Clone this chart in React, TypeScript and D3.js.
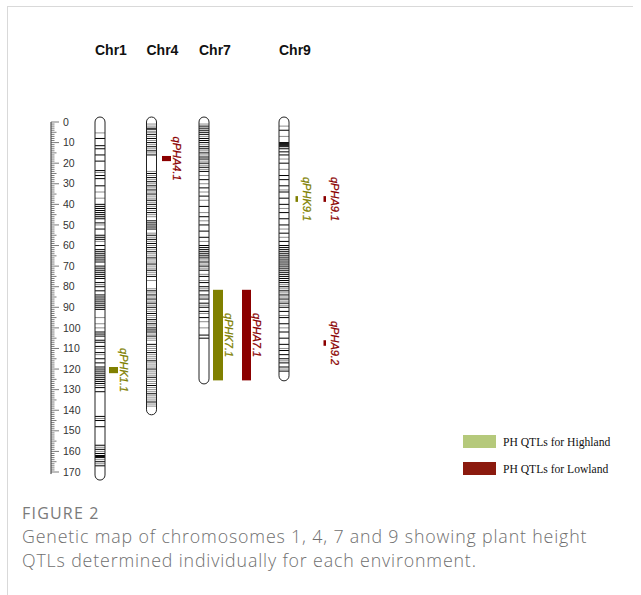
import React from "react";
import * as d3 from "d3";

// ---------- data ----------
const chromosomes = ["Chr1", "Chr4", "Chr7", "Chr9"];
const chrLengths = [171.5, 139.8, 124.8, 123.3];

const chr1Dark = [8, 11.5, 13, 16, 19, 23.6, 26, 27.5, 31, 40, 41, 42, 43, 44, 45, 46, 47, 49, 52, 55, 56, 57, 60, 62, 63, 64, 65, 66, 67, 68, 70, 71, 72, 73, 74, 75, 76, 78, 80, 82, 84, 85, 86, 87, 88, 89, 90, 91, 102, 103, 104, 106, 107, 109, 112, 115, 117, 119, 120, 121, 122, 123, 124, 125, 126, 127, 129, 131, 143, 145, 148, 157, 159, 161, 162, 162.5, 163, 165, 167];
const chr1Gray = [5.3, 24.5, 34, 37, 50, 58, 79, 95, 98, 100, 110, 113, 128, 144, 158, 160, 164, 166];
const chr4Dark = [3, 3.5, 6, 8, 10, 12, 14, 16, 25, 27, 29, 31, 33, 35, 38, 40, 42, 44, 48, 49, 50, 51, 52, 55, 57, 59, 61, 63, 66, 69, 72, 75, 82, 84, 86, 88, 90, 93, 96, 98, 100, 101, 102, 104, 108, 112, 116, 120, 124, 128, 132, 136];
const chr4Gray = [1, 2, 4.5, 5, 7, 9, 11, 13, 15, 24, 26, 28, 30, 32, 34, 36, 37, 39, 41, 43, 45, 46, 54, 56, 58, 60, 62, 64, 65, 67, 68, 70, 71, 73, 74, 77, 81, 83, 85, 87, 89, 91, 92, 94, 95, 97, 99, 103, 105, 106, 109, 110, 111, 113, 114, 115, 117, 118, 119, 121, 122, 123, 125, 126, 127, 129, 130, 131, 133, 134, 135, 137, 138];
const chr7Dark = [2, 3, 4, 5, 6, 8, 9, 10, 12, 13, 15, 17, 18, 20, 22, 24, 28, 32, 36, 41, 46, 50, 53, 56, 60, 61, 62, 63, 64, 65, 66, 68, 70, 72, 75, 78, 80, 82, 84, 86, 88, 90, 92, 95, 103.5, 105];
const chr7Gray = [1, 7, 11, 14, 16, 19, 21, 23, 26, 30, 34, 38, 44, 48, 58, 67, 69, 71, 74, 77, 81, 85, 89, 93, 97, 100];
const chr9Dark = [4, 10, 10.5, 11, 11.5, 12, 13, 14.5, 16, 20, 26, 28, 31, 34, 37, 40, 44, 47, 50, 54, 58, 60, 61, 62, 63, 64, 65, 66, 67, 68, 69, 70, 71, 72, 73, 74, 75, 76, 77, 78, 80, 82, 84, 86, 88, 90, 92, 95, 98, 102, 105, 108, 111, 113, 115, 117, 119, 121];
const chr9Gray = [2, 7, 18, 23, 33, 42, 52, 56, 79, 81, 83, 85, 87, 89, 94, 100, 110, 116, 120];

const darkBands = [chr1Dark, chr4Dark, chr7Dark, chr9Dark];
const grayBands = [chr1Gray, chr4Gray, chr7Gray, chr9Gray];

const qtlNames = ["qPHK1.1", "qPHA4.1", "qPHK7.1", "qPHA7.1", "qPHK9.1", "qPHA9.1", "qPHA9.2"];
const qtlChr = ["Chr1", "Chr4", "Chr7", "Chr7", "Chr9", "Chr9", "Chr9"];
const qtlStart = [119, 16.5, 81.5, 81.5, 36, 36, 106];
const qtlEnd = [122, 19, 125.5, 125.5, 38.8, 38.8, 108.7];
const qtlEnv = ["Highland", "Lowland", "Highland", "Lowland", "Highland", "Lowland", "Lowland"];

const axisTicks = d3.range(0, 171, 10);
const legendLabels = ["PH QTLs for Highland", "PH QTLs for Lowland"];

const captionTitle = "FIGURE 2";
const captionLines = [
  "Genetic map of chromosomes 1, 4, 7 and 9 showing plant height",
  "QTLs determined individually for each environment.",
];

// ---------- layout ----------
const W = 641;
const H = 595;
const y = d3.scaleLinear().domain([0, 170]).range([122, 472]);
const xChr = d3.scaleOrdinal<string, number>().domain(chromosomes).range([100, 151.5, 204, 284]);
const chrW = 10;
const envColor = d3.scaleOrdinal<string, string>().domain(["Highland", "Lowland"]).range(["#808000", "#8b0000"]);
const legendColor = d3.scaleOrdinal<string, string>().domain(legendLabels).range(["#b5c97b", "#8b1a0e"]);

function qtlLane(chr: string, env: string) {
  const c = xChr(chr);
  if (chr === "Chr9") {
    return env === "Highland" ? { x: c + 11.5, w: 2.5, gap: 9 } : { x: c + 39.5, w: 2.5, gap: 9 };
  }
  if (chr === "Chr7") {
    return env === "Highland" ? { x: c + 9, w: 10, gap: 6 } : { x: c + 38, w: 9, gap: 6 };
  }
  if (chr === "Chr4") return { x: c + 10.5, w: 9, gap: 6 };
  return { x: c + 9, w: 9, gap: 6 };
}

export default function App() {
  const axisX = 51;
  return (
    <svg
      width={W}
      height={H}
      style={{ position: "absolute", left: 0, top: 0, background: "#fff" }}
      fontFamily="Arial, Liberation Sans, sans-serif"
    >
      <defs>
        {chromosomes.map((c, i) => (
          <clipPath id={`clip-${c}`} key={c}>
            <rect x={xChr(c) - chrW / 2} y={y(0) - 5} width={chrW} height={y(chrLengths[i]) - y(0) + 10} rx={5} ry={5} />
          </clipPath>
        ))}
      </defs>
      {/* frame */}
      <line x1={7.5} y1={6} x2={7.5} y2={H} stroke="#d9d9d9" />
      <line x1={7} y1={6.5} x2={633} y2={6.5} stroke="#d9d9d9" />

      {/* ruler axis */}
      <line x1={axisX} x2={axisX} y1={y(0)} y2={y(171)} stroke="#333" />
      {d3.range(0, 171, 1).map((t) => {
        const len = t % 10 === 0 ? 8 : t % 5 === 0 ? 5.5 : 3.5;
        return <line key={t} x1={axisX} x2={axisX + len} y1={y(t)} y2={y(t)} stroke="#444" strokeWidth={0.7} />;
      })}
      {axisTicks.map((t) => (
        <text key={t} x={63} y={y(t)} dy="0.35em" fontSize={10.5} fill="#333">
          {t}
        </text>
      ))}

      {/* chromosome labels */}
      {chromosomes.map((c) => (
        <text key={c} x={xChr(c) - 5} y={55} fontSize={14} fontWeight="bold" fill="#111">
          {c}
        </text>
      ))}

      {/* chromosomes */}
      {chromosomes.map((c, i) => (
        <g key={c}>
          <rect x={xChr(c) - chrW / 2} y={y(0) - 5} width={chrW} height={y(chrLengths[i]) - y(0) + 10} rx={5} ry={5} fill="#fff" />
          <g clipPath={`url(#clip-${c})`}>
            {grayBands[i].map((b, j) => (
              <line key={"g" + j} x1={xChr(c) - 5} x2={xChr(c) + 5} y1={y(b)} y2={y(b)} stroke="#8c8c8c" strokeWidth={1} />
            ))}
            {darkBands[i].map((b, j) => (
              <line key={"d" + j} x1={xChr(c) - 5} x2={xChr(c) + 5} y1={y(b)} y2={y(b)} stroke="#000" strokeWidth={1} />
            ))}
          </g>
          <rect x={xChr(c) - chrW / 2} y={y(0) - 5} width={chrW} height={y(chrLengths[i]) - y(0) + 10} rx={5} ry={5} fill="none" stroke="#222" strokeWidth={1} />
        </g>
      ))}

      {/* QTLs */}
      {qtlNames.map((n, i) => {
        const lane = qtlLane(qtlChr[i], qtlEnv[i]);
        const y0 = y(qtlStart[i]);
        const y1 = y(qtlEnd[i]);
        const cy = (y0 + y1) / 2;
        const lx = lane.x + lane.w + lane.gap;
        return (
          <g key={n}>
            <rect x={lane.x} y={y0} width={lane.w} height={y1 - y0} fill={envColor(qtlEnv[i])} />
            <text
              x={lx}
              y={cy}
              transform={`rotate(90 ${lx} ${cy})`}
              textAnchor="middle"
              dominantBaseline="central"
              fontSize={11}
              fontStyle="italic"
              fill={envColor(qtlEnv[i])}
              stroke={envColor(qtlEnv[i])}
              strokeWidth={0.25}
            >
              {n}
            </text>
          </g>
        );
      })}

      {/* legend */}
      {legendLabels.map((l, i) => (
        <g key={l} transform={`translate(463, ${435 + i * 27})`}>
          <rect x={0} y={0} width={33} height={13} fill={legendColor(l)} />
          <text x={40} y={10.5} fontSize={11.6} fontFamily="Liberation Serif, Times New Roman, serif" fill="#111">
            {l}
          </text>
        </g>
      ))}

      {/* caption */}
      <text x={22} y={519} fontSize={16} letterSpacing={1.2} fill="#7a7a7a" fontFamily="Open Sans, sans-serif">
        {captionTitle}
      </text>
      {captionLines.map((l, i) => (
        <text key={i} x={22} y={543 + i * 24.3} fontSize={17.8} letterSpacing={0.85} fill="#6f6f6f" fontFamily="Open Sans, sans-serif" fontWeight={300}>
          {l}
        </text>
      ))}
    </svg>
  );
}
